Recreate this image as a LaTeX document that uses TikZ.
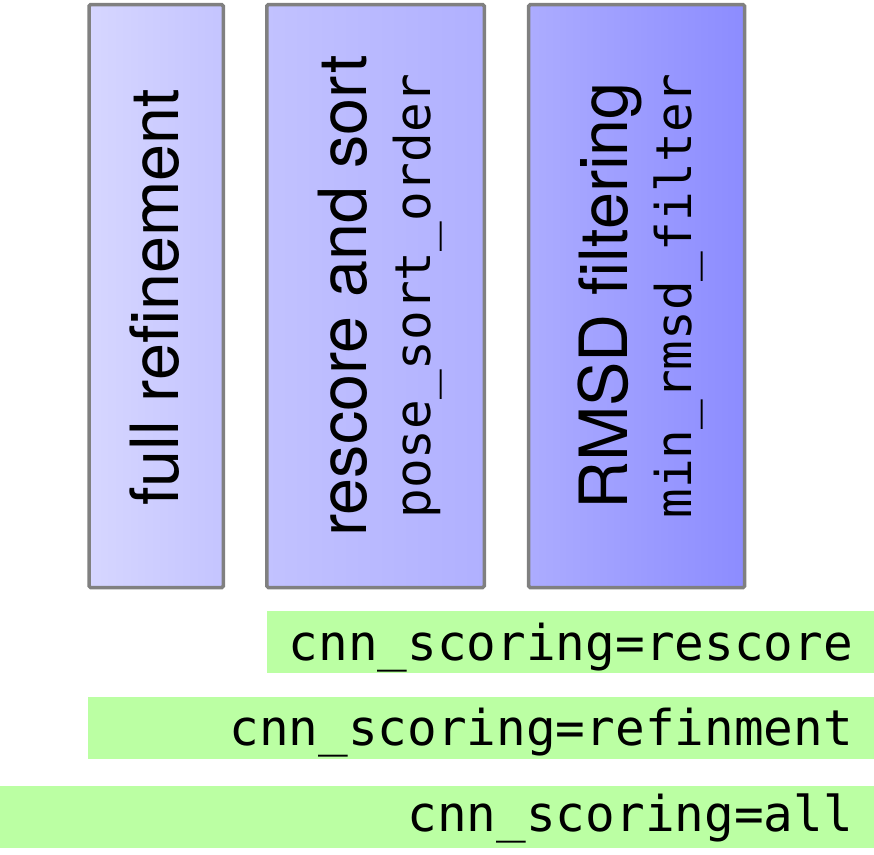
\documentclass[tikz,border=0pt]{standalone}
\usepackage{fontspec}
\setmainfont{TeX Gyre Heros}
\newfontfamily\monof{DejaVu Sans Mono}
\definecolor{borderg}{HTML}{808080}
\definecolor{barg}{HTML}{BBFFA3}
\definecolor{bOneL}{HTML}{D6D6FF}
\definecolor{bOneR}{HTML}{C4C4FF}
\definecolor{bTwoL}{HTML}{C2C2FF}
\definecolor{bTwoR}{HTML}{B0B0FF}
\definecolor{bThrL}{HTML}{ACACFF}
\definecolor{bThrR}{HTML}{8C8CFF}
\tikzset{
  stagebox/.style={draw=borderg, line width=3.5pt, rounded corners=1.5pt, inner sep=0pt, minimum height=582.8pt},
  greenbar/.style={fill=barg, draw=none, inner sep=0pt, minimum height=62pt, anchor=north west},
  bigtxt/.style={font=\fontsize{66.5}{70}\selectfont, inner sep=0pt, rotate=90, anchor=base},
  monotxt/.style={font=\monof\fontsize{49.3}{52}\selectfont, inner sep=0pt, anchor=base},
  barmono/.style={font=\monof\fontsize{49.3}{52}\selectfont, inner sep=0pt, anchor=base east}
}
\begin{document}
\begin{tikzpicture}[x=1pt,y=-1pt]
\useasboundingbox (0,0) rectangle (874,854);
% stage boxes
\node[stagebox, minimum width=134.3pt, left color=bOneL, right color=bOneR] (b1) at (156.15,296.1) {};
\node[stagebox, minimum width=217.5pt, left color=bTwoL, right color=bTwoR] (b2) at (375.5,296.1) {};
\node[stagebox, minimum width=216pt, left color=bThrL, right color=bThrR] (b3) at (636.7,296.1) {};
% box labels
\node[bigtxt] (t1) at (178,297.5) {full refinement};
\node[bigtxt] (t2a) at (366,296) {rescore and sort};
\node[monotxt, rotate=90] (t2b) at (430,296) {pose\_sort\_order};
\node[bigtxt] (t3a) at (627,296) {RMSD filtering};
\node[monotxt, rotate=90] (t3b) at (691,296) {min\_rmsd\_filter};
% green bars
\node[greenbar, minimum width=607pt] (g1) at (267,611) {};
\node[greenbar, minimum width=786pt] (g2) at (88,697) {};
\node[greenbar, minimum width=874pt] (g3) at (0,786) {};
\node[barmono] (l1) at (853,660) {cnn\_scoring=rescore};
\node[barmono] (l2) at (853,745) {cnn\_scoring=refinment};
\node[barmono] (l3) at (853,831) {cnn\_scoring=all};
\end{tikzpicture}
\end{document}
